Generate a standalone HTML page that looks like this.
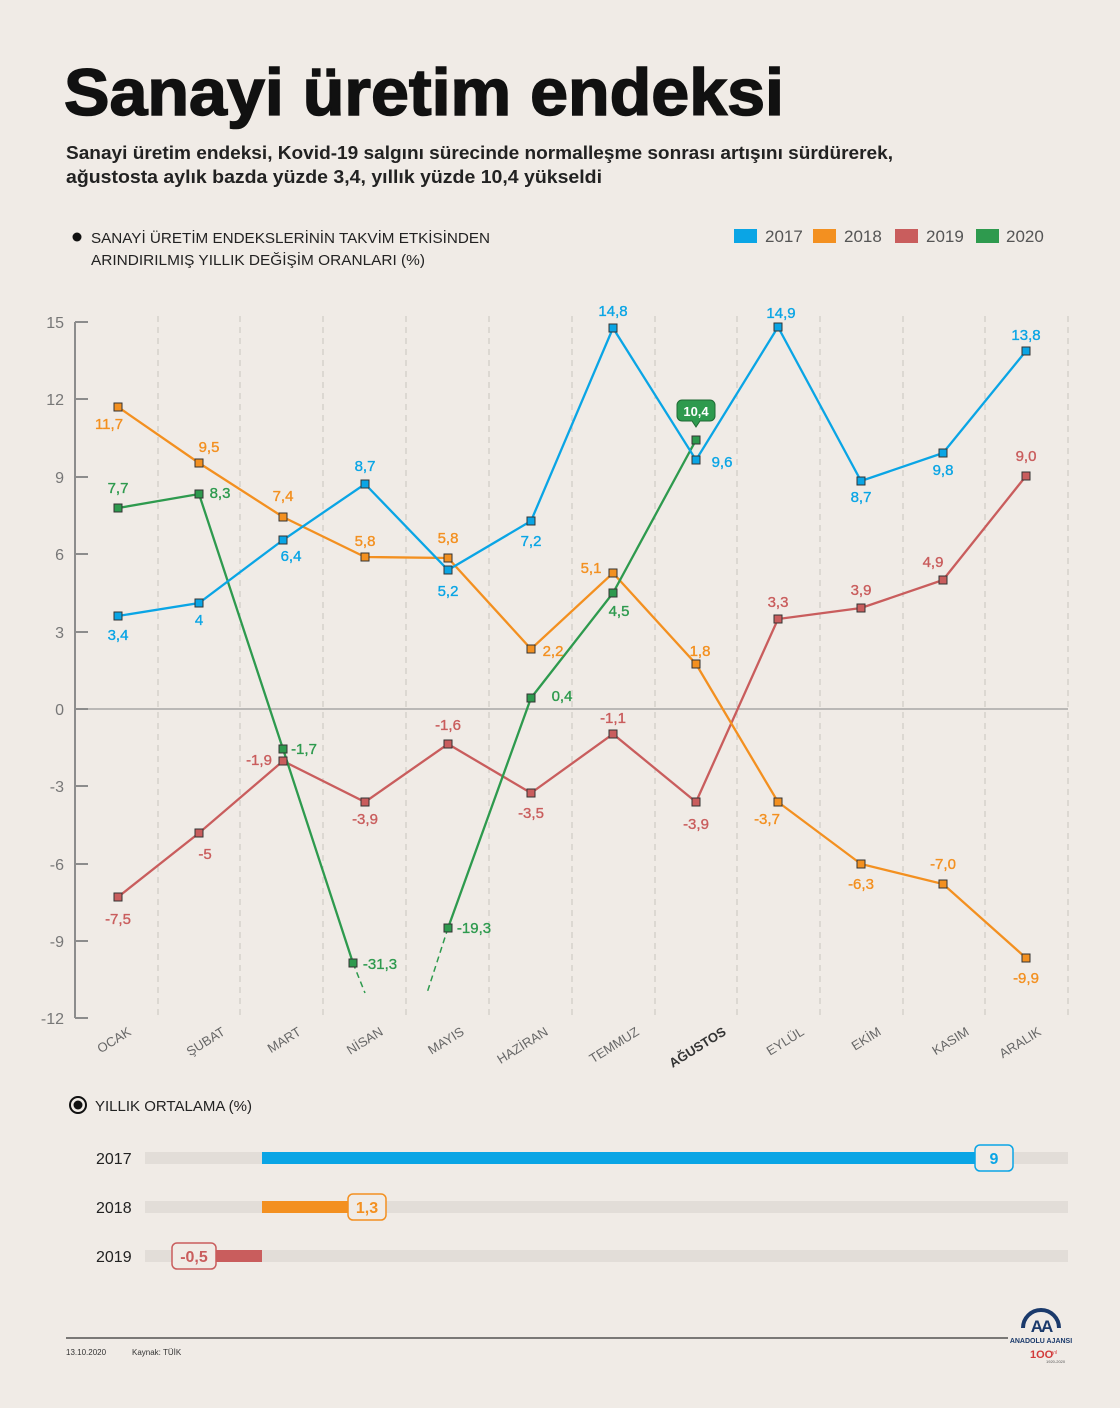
<!DOCTYPE html>
<html><head><meta charset="utf-8"><style>
html,body{margin:0;padding:0;background:#f0ebe6;}
svg{display:block;font-family:"Liberation Sans","DejaVu Sans",sans-serif;}
</style></head><body>
<svg width="1120" height="1408" viewBox="0 0 1120 1408" xmlns="http://www.w3.org/2000/svg">
<rect width="1120" height="1408" fill="#f0ebe6"/>
<text x="64" y="115" font-size="66" font-weight="900" fill="#111" stroke="#111" stroke-width="1.5" textLength="720" lengthAdjust="spacingAndGlyphs">Sanayi üretim endeksi</text>
<text x="66" y="159" font-size="18.5" font-weight="bold" fill="#222" textLength="827" lengthAdjust="spacingAndGlyphs">Sanayi üretim endeksi, Kovid-19 salgını sürecinde normalleşme sonrası artışını sürdürerek,</text>
<text x="66" y="183" font-size="18.5" font-weight="bold" fill="#222" textLength="536" lengthAdjust="spacingAndGlyphs">ağustosta aylık bazda yüzde 3,4, yıllık yüzde 10,4 yükseldi</text>
<circle cx="77" cy="237" r="4.5" fill="#111"/>
<text x="91" y="243" font-size="15" fill="#222" textLength="399" lengthAdjust="spacingAndGlyphs">SANAYİ ÜRETİM ENDEKSLERİNİN TAKVİM ETKİSİNDEN</text>
<text x="91" y="265" font-size="15" fill="#222" textLength="334" lengthAdjust="spacingAndGlyphs">ARINDIRILMIŞ YILLIK DEĞİŞİM ORANLARI (%)</text>
<g font-size="17" fill="#555">
<rect x="734" y="229" width="23" height="14" fill="#0aa5e5"/><text x="765" y="242">2017</text>
<rect x="813" y="229" width="23" height="14" fill="#f39020"/><text x="844" y="242">2018</text>
<rect x="895" y="229" width="23" height="14" fill="#c95d5d"/><text x="926" y="242">2019</text>
<rect x="976" y="229" width="23" height="14" fill="#2e9a4e"/><text x="1006" y="242">2020</text>
</g>
<g stroke="#c9c4bf" stroke-width="1" stroke-dasharray="6,5">
<line x1="158" y1="316" x2="158" y2="1018"/><line x1="240" y1="316" x2="240" y2="1018"/><line x1="323" y1="316" x2="323" y2="1018"/><line x1="406" y1="316" x2="406" y2="1018"/><line x1="489" y1="316" x2="489" y2="1018"/><line x1="572" y1="316" x2="572" y2="1018"/><line x1="655" y1="316" x2="655" y2="1018"/><line x1="737" y1="316" x2="737" y2="1018"/><line x1="820" y1="316" x2="820" y2="1018"/><line x1="903" y1="316" x2="903" y2="1018"/><line x1="985" y1="316" x2="985" y2="1018"/><line x1="1068" y1="316" x2="1068" y2="1018"/>
</g>
<line x1="75" y1="709" x2="1068" y2="709" stroke="#9a9a9a" stroke-width="1.2"/>
<g stroke="#8c8c8c" stroke-width="2">
<line x1="75" y1="322" x2="75" y2="1018"/>
<line x1="75" y1="322" x2="88" y2="322"/><line x1="75" y1="399" x2="88" y2="399"/><line x1="75" y1="477" x2="88" y2="477"/><line x1="75" y1="554" x2="88" y2="554"/><line x1="75" y1="632" x2="88" y2="632"/><line x1="75" y1="709" x2="88" y2="709"/><line x1="75" y1="786" x2="88" y2="786"/><line x1="75" y1="864" x2="88" y2="864"/><line x1="75" y1="941" x2="88" y2="941"/><line x1="75" y1="1018" x2="88" y2="1018"/>
</g>
<g font-size="16" fill="#777" text-anchor="end">
<text x="64" y="328">15</text><text x="64" y="405">12</text><text x="64" y="483">9</text><text x="64" y="560">6</text><text x="64" y="638">3</text><text x="64" y="715">0</text><text x="64" y="792">-3</text><text x="64" y="870">-6</text><text x="64" y="947">-9</text><text x="64" y="1024">-12</text>
</g>
<g font-size="13" fill="#666" text-anchor="end">
<text transform="translate(132,1034) rotate(-32)">OCAK</text>
<text transform="translate(226,1034) rotate(-32)">ŞUBAT</text>
<text transform="translate(302,1034) rotate(-32)">MART</text>
<text transform="translate(384,1034) rotate(-32)">NİSAN</text>
<text transform="translate(465,1034) rotate(-32)">MAYIS</text>
<text transform="translate(549,1034) rotate(-32)">HAZİRAN</text>
<text transform="translate(640,1034) rotate(-32)">TEMMUZ</text>
<text transform="translate(727,1034) rotate(-32)" font-weight="bold" fill="#333">AĞUSTOS</text>
<text transform="translate(805,1034) rotate(-32)">EYLÜL</text>
<text transform="translate(882,1034) rotate(-32)">EKİM</text>
<text transform="translate(970,1034) rotate(-32)">KASIM</text>
<text transform="translate(1042,1034) rotate(-32)">ARALIK</text>
</g>
<g fill="none" stroke-width="2.3">
<polyline stroke="#c95d5d" points="118,897 199,833 283,761 365,802 448,744 531,793 613,734 696,802 778,619 861,608 943,580 1026,476"/>
<polyline stroke="#f39020" points="118,407 199,463 283,517 365,557 448,558 531,649 613,573 696,664 778,802 861,864 943,884 1026,958"/>
<polyline stroke="#2e9a4e" points="118,508 199,494 283,749 353,963"/>
<polyline stroke="#2e9a4e" points="448,928 531,698 613,593 696,440"/>
<line x1="353" y1="963" x2="365" y2="993" stroke="#2e9a4e" stroke-width="1.5" stroke-dasharray="6,4"/>
<line x1="448" y1="928" x2="427" y2="993" stroke="#2e9a4e" stroke-width="1.5" stroke-dasharray="6,4"/>
<polyline stroke="#0aa5e5" points="118,616 199,603 283,540 365,484 448,570 531,521 613,328 696,460 778,327 861,481 943,453 1026,351"/>
</g>
<g stroke="#333" stroke-width="1">
<g fill="#c95d5d"><rect x="114" y="893" width="8" height="8"/><rect x="195" y="829" width="8" height="8"/><rect x="279" y="757" width="8" height="8"/><rect x="361" y="798" width="8" height="8"/><rect x="444" y="740" width="8" height="8"/><rect x="527" y="789" width="8" height="8"/><rect x="609" y="730" width="8" height="8"/><rect x="692" y="798" width="8" height="8"/><rect x="774" y="615" width="8" height="8"/><rect x="857" y="604" width="8" height="8"/><rect x="939" y="576" width="8" height="8"/><rect x="1022" y="472" width="8" height="8"/></g>
<g fill="#f39020"><rect x="114" y="403" width="8" height="8"/><rect x="195" y="459" width="8" height="8"/><rect x="279" y="513" width="8" height="8"/><rect x="361" y="553" width="8" height="8"/><rect x="444" y="554" width="8" height="8"/><rect x="527" y="645" width="8" height="8"/><rect x="609" y="569" width="8" height="8"/><rect x="692" y="660" width="8" height="8"/><rect x="774" y="798" width="8" height="8"/><rect x="857" y="860" width="8" height="8"/><rect x="939" y="880" width="8" height="8"/><rect x="1022" y="954" width="8" height="8"/></g>
<g fill="#2e9a4e"><rect x="114" y="504" width="8" height="8"/><rect x="195" y="490" width="8" height="8"/><rect x="279" y="745" width="8" height="8"/><rect x="349" y="959" width="8" height="8"/><rect x="444" y="924" width="8" height="8"/><rect x="527" y="694" width="8" height="8"/><rect x="609" y="589" width="8" height="8"/><rect x="692" y="436" width="8" height="8"/></g>
<g fill="#0aa5e5"><rect x="114" y="612" width="8" height="8"/><rect x="195" y="599" width="8" height="8"/><rect x="279" y="536" width="8" height="8"/><rect x="361" y="480" width="8" height="8"/><rect x="444" y="566" width="8" height="8"/><rect x="527" y="517" width="8" height="8"/><rect x="609" y="324" width="8" height="8"/><rect x="692" y="456" width="8" height="8"/><rect x="774" y="323" width="8" height="8"/><rect x="857" y="477" width="8" height="8"/><rect x="939" y="449" width="8" height="8"/><rect x="1022" y="347" width="8" height="8"/></g>
</g>
<path d="M682,400 h28 a5,5 0 0 1 5,5 v11 a5,5 0 0 1 -5,5 h-10 l-4,6 l-4,-6 h-10 a5,5 0 0 1 -5,-5 v-11 a5,5 0 0 1 5,-5z" fill="#2e9a4e" stroke="#1e6a34" stroke-width="1"/>
<text x="696" y="416" font-size="13" font-weight="bold" fill="#fff" text-anchor="middle">10,4</text>
<g font-size="15" text-anchor="middle" stroke-width="0.35">
<g fill="#0aa5e5" stroke="#0aa5e5"><text x="118" y="640">3,4</text><text x="199" y="625">4</text><text x="291" y="561">6,4</text><text x="365" y="471">8,7</text><text x="448" y="596">5,2</text><text x="531" y="546">7,2</text><text x="613" y="316">14,8</text><text x="722" y="467">9,6</text><text x="781" y="318">14,9</text><text x="861" y="502">8,7</text><text x="943" y="475">9,8</text><text x="1026" y="340">13,8</text></g>
<g fill="#f39020" stroke="#f39020"><text x="109" y="429">11,7</text><text x="209" y="452">9,5</text><text x="283" y="501">7,4</text><text x="365" y="546">5,8</text><text x="448" y="543">5,8</text><text x="553" y="656">2,2</text><text x="591" y="573">5,1</text><text x="700" y="656">1,8</text><text x="767" y="824">-3,7</text><text x="861" y="889">-6,3</text><text x="943" y="869">-7,0</text><text x="1026" y="983">-9,9</text></g>
<g fill="#c95d5d" stroke="#c95d5d"><text x="118" y="924">-7,5</text><text x="205" y="859">-5</text><text x="259" y="765">-1,9</text><text x="365" y="824">-3,9</text><text x="448" y="730">-1,6</text><text x="531" y="818">-3,5</text><text x="613" y="723">-1,1</text><text x="696" y="829">-3,9</text><text x="778" y="607">3,3</text><text x="861" y="595">3,9</text><text x="933" y="567">4,9</text><text x="1026" y="461">9,0</text></g>
<g fill="#2e9a4e" stroke="#2e9a4e"><text x="118" y="493">7,7</text><text x="220" y="498">8,3</text><text x="304" y="754">-1,7</text><text x="380" y="969">-31,3</text><text x="474" y="933">-19,3</text><text x="562" y="701">0,4</text><text x="619" y="616">4,5</text></g>
</g>
<circle cx="78" cy="1105" r="8" fill="none" stroke="#111" stroke-width="2"/>
<circle cx="78" cy="1105" r="4.5" fill="#111"/>
<text x="95" y="1111" font-size="15" fill="#222">YILLIK ORTALAMA (%)</text>
<g font-size="16" fill="#222"><text x="96" y="1164">2017</text><text x="96" y="1213">2018</text><text x="96" y="1262">2019</text></g>
<g fill="#e2ddd8"><rect x="145" y="1152" width="923" height="12"/><rect x="145" y="1201" width="923" height="12"/><rect x="145" y="1250" width="923" height="12"/></g>
<rect x="262" y="1152" width="713" height="12" fill="#0aa5e5"/>
<rect x="262" y="1201" width="86" height="12" fill="#f39020"/>
<rect x="202" y="1250" width="60" height="12" fill="#c95d5d"/>
<rect x="975" y="1145" width="38" height="26" rx="5" fill="#f0ebe6" stroke="#0aa5e5" stroke-width="1.5"/>
<text x="994" y="1164" font-size="16" font-weight="bold" fill="#0aa5e5" text-anchor="middle">9</text>
<rect x="348" y="1194" width="38" height="26" rx="5" fill="#f0ebe6" stroke="#f39020" stroke-width="1.5"/>
<text x="367" y="1213" font-size="16" font-weight="bold" fill="#f39020" text-anchor="middle">1,3</text>
<rect x="172" y="1243" width="44" height="26" rx="5" fill="#f0ebe6" stroke="#c95d5d" stroke-width="1.5"/>
<text x="194" y="1262" font-size="16" font-weight="bold" fill="#c95d5d" text-anchor="middle">-0,5</text>
<line x1="66" y1="1338" x2="1008" y2="1338" stroke="#333" stroke-width="1.2"/>
<text x="66" y="1355" font-size="8" fill="#333">13.10.2020</text>
<text x="132" y="1355" font-size="8" fill="#333">Kaynak: TÜİK</text>
<path d="M1023,1328 a18,18 0 0 1 36,0" fill="none" stroke="#1b3a6b" stroke-width="4"/>
<text x="1041" y="1332" font-size="17" font-weight="bold" fill="#1b3a6b" text-anchor="middle" letter-spacing="-2">AA</text>
<text x="1041" y="1343" font-size="7" font-weight="bold" fill="#1b3a6b" text-anchor="middle">ANADOLU AJANSI</text>
<text x="1030" y="1358" font-size="11" fill="#d23a3a" font-weight="bold">1OO</text>
<text x="1052" y="1354" font-size="5" fill="#d23a3a">yıl</text>
<text x="1046" y="1363" font-size="4" fill="#555">1920-2020</text>
</svg>
</body></html>
